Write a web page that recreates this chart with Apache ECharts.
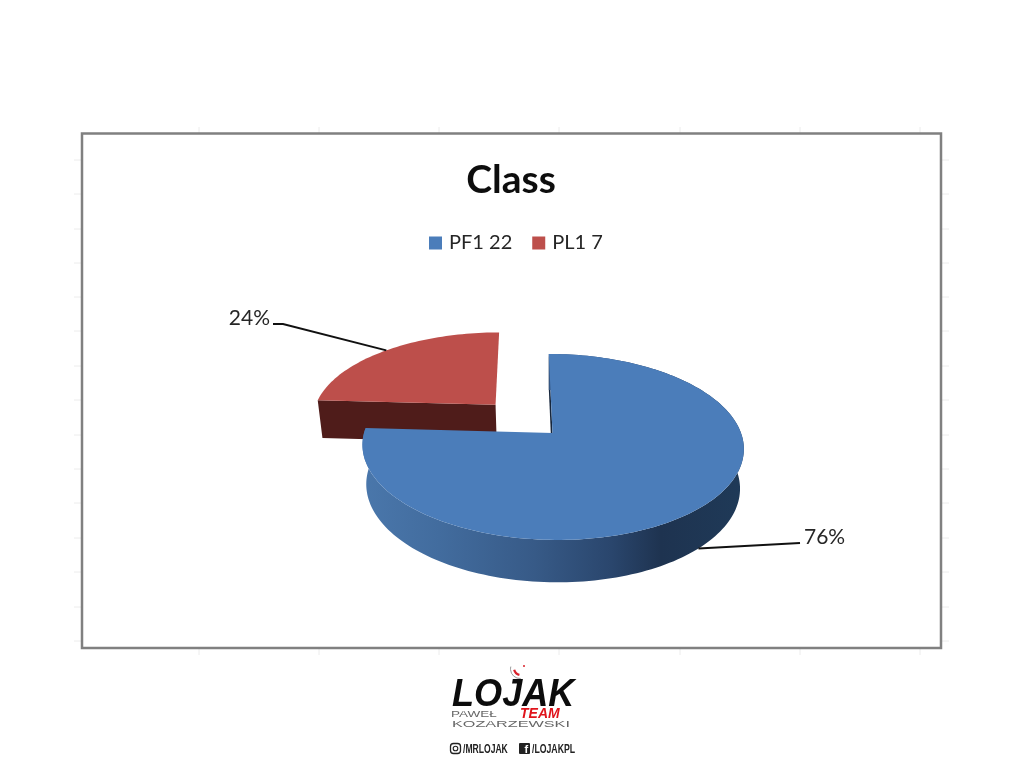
<!DOCTYPE html>
<html><head><meta charset="utf-8">
<style>html,body{margin:0;padding:0;background:#fff}#c{width:1024px;height:783px}</style>
<script src="https://cdn.jsdelivr.net/npm/echarts@6/dist/echarts.min.js"></script>
</head><body><div id="c"></div>
<script>
const chartTitle = 'Class';
const categories = ['PF1 22', 'PL1 7'];
const values = [22, 7];
const sliceColors = ['#4b7dba', '#bd4f4b'];
const explodeAmounts = [0, 0.45];
const total = values.reduce((a, b) => a + b, 0);

// view projection of the tilted pie
const apexX = 552.5, apexY = 433, radiusX = 188.5, radiusY = 90.9, persp = 0.15, skew = 0.047;
const rad = Math.PI / 180;
function topPt(u, v) {
  const d = 1 - persp * v, dy = radiusY * v / d;
  return [apexX + radiusX * u / d + skew * dy, apexY + dy];
}
function bottomPt(u, v) {
  const p = topPt(u, v);
  return [apexX + (p[0] - apexX) * 0.98, p[1] + 39 / (1 - 0.08 * v)];
}
function sliceInfo(i) {
  let start = 0;
  for (let k = 0; k < i; k++) start += values[k] / total * 360;
  const end = start + values[i] / total * 360, mid = (start + end) / 2;
  const ex = explodeAmounts[i];
  return { start, end, mid, ou: ex * Math.sin(mid * rad), ov: -ex * Math.cos(mid * rad) };
}
function rim(s, from, to, fn) {
  const pts = [], n = Math.ceil(Math.abs(to - from) / 1.5);
  for (let j = 0; j <= n; j++) {
    const a = (from + (to - from) * j / n) * rad;
    pts.push(fn(s.ou + Math.sin(a), s.ov - Math.cos(a)));
  }
  return pts;
}
function poly(points, fill) {
  return { type: 'polygon', shape: { points }, style: { fill }, silent: true };
}
const wallGradient = {
  type: 'linear', x: 363, y: 0, x2: 745, y2: 0, global: true,
  colorStops: [
    { offset: 0, color: '#4a77ab' }, { offset: 0.2, color: '#426c9e' },
    { offset: 0.45, color: '#375a87' }, { offset: 0.65, color: '#2a466d' },
    { offset: 0.78, color: '#1e3350' }, { offset: 1, color: '#1f3a58' }
  ]
};
const labelOffsets = [[[800, 543], 804, 537, 'left'], [[283, 324], 270, 318, 'right']];

function renderSlice(i) {
  return function () {
    const s = sliceInfo(i);
    const apexT = topPt(s.ou, s.ov), apexB = bottomPt(s.ou, s.ov);
    const children = [];
    const startU = s.ou + Math.sin(s.start * rad), startV = s.ov - Math.cos(s.start * rad);
    const startT = topPt(startU, startV), startB = bottomPt(startU, startV);
    if (i === 0) {
      children.push(poly([apexT, startT, startB, apexB], '#16263c'));
      children.push(poly(rim(s, s.start, s.end, topPt).concat(rim(s, s.end, s.start, bottomPt)), wallGradient));
    } else {
      children.push(poly([startT, apexT, apexB, startB], '#4f1c1a'));
    }
    children.push(poly([apexT].concat(rim(s, s.start, s.end, topPt)), sliceColors[i]));
    // leader line and percent label
    const m = s.mid * rad, mu = s.ou + Math.sin(m), mv = s.ov - Math.cos(m);
    const anchor = i === 0 ? bottomPt(mu, mv) : topPt(mu, mv);
    const off = labelOffsets[i];
    const line = i === 0 ? [anchor, off[0]] : [anchor, off[0], [273, 324]];
    children.push({ type: 'polyline', shape: { points: line }, style: { stroke: '#111', lineWidth: 2, fill: null }, silent: true });
    children.push({ type: 'text', silent: true, style: {
      text: Math.round(values[i] / total * 100) + '%', x: off[1], y: off[2], align: off[3], verticalAlign: 'middle',
      font: '21px Lato, "Open Sans", sans-serif', fill: '#262626' } });
    return { type: 'group', children };
  };
}

// faint sheet gridlines peeking out around the chart frame
const tickStyle = { stroke: '#ececec', lineWidth: 1 };
const topTickX = [199, 319, 439, 559, 680, 800, 920];
const sideTickY = [160, 194, 229, 263, 297, 331, 366, 400, 435, 469, 503, 538, 572, 607, 641];
const ticks = [];
topTickX.forEach(x => {
  ticks.push({ type: 'line', silent: true, shape: { x1: x, y1: 127, x2: x, y2: 133 }, style: tickStyle });
  ticks.push({ type: 'line', silent: true, shape: { x1: x, y1: 648, x2: x, y2: 655 }, style: tickStyle });
});
sideTickY.forEach(y => {
  ticks.push({ type: 'line', silent: true, shape: { x1: 74, y1: y, x2: 82, y2: y }, style: tickStyle });
  ticks.push({ type: 'line', silent: true, shape: { x1: 941, y1: y, x2: 949, y2: y }, style: tickStyle });
});

function txt(text, x, y, font, fill, extra) {
  return Object.assign({ type: 'text', silent: true, x, y, style: { text, x: 0, y: 0, font, fill, verticalAlign: 'middle' } }, extra || {});
}
const logo = [
  { type: 'arc', silent: true, shape: { cx: 520, cy: 669, r: 9.5, startAngle: 1.5, endAngle: 3.4 }, style: { stroke: '#9a9a9a', lineWidth: 1, fill: null } },
  { type: 'arc', silent: true, shape: { cx: 521, cy: 668, r: 7, startAngle: 1.8, endAngle: 2.9 }, style: { stroke: '#d8202a', lineWidth: 2.2, fill: null } },
  { type: 'circle', silent: true, shape: { cx: 524, cy: 666, r: 1 }, style: { fill: '#d8202a' } },
  txt('LOJAK', 452, 696, 'italic 900 38px "Liberation Sans", sans-serif', '#0c0c0c', { scaleX: 0.95 }),
  txt('TEAM', 520, 714, 'italic bold 14px "Liberation Sans", sans-serif', '#e0141c'),
  txt('PAWEŁ', 451, 715, '9px "Liberation Sans", sans-serif', '#666', { scaleX: 1.5 }),
  txt('KOZARZEWSKI', 452, 725, '9px "Liberation Sans", sans-serif', '#666', { scaleX: 1.8 }),
  { type: 'rect', silent: true, shape: { x: 450.5, y: 743.5, width: 10, height: 10, r: 3 }, style: { stroke: '#222', lineWidth: 1.3, fill: null } },
  { type: 'circle', silent: true, shape: { cx: 455.5, cy: 748.5, r: 2.3 }, style: { stroke: '#222', lineWidth: 1.1, fill: null } },
  txt('/MRLOJAK', 463, 749, 'bold 13px "Liberation Sans", sans-serif', '#222', { scaleX: 0.66 }),
  { type: 'rect', silent: true, shape: { x: 519, y: 743, width: 11, height: 11, r: 1 }, style: { fill: '#222' } },
  txt('f', 524.5, 749.5, 'bold 11px "Liberation Sans", sans-serif', '#fff'),
  txt('/LOJAKPL', 532, 749, 'bold 13px "Liberation Sans", sans-serif', '#222', { scaleX: 0.67 })
];

const chart = echarts.init(document.getElementById('c'), null, { renderer: 'canvas' });
chart.setOption({
  animation: false,
  backgroundColor: '#fff',
  title: {
    text: chartTitle, left: 506, top: 156, textAlign: 'center',
    textStyle: { fontFamily: 'Lato, "Open Sans", sans-serif', fontWeight: 'bold', fontSize: 39, color: '#0d0d0d' }
  },
  legend: {
    data: categories, left: 424, top: 228, icon: 'rect', itemWidth: 13, itemHeight: 13, itemGap: 20,
    textStyle: { fontFamily: 'Lato, "Open Sans", sans-serif', fontSize: 20, color: '#262626', padding: [0, 0, 0, 2] }
  },
  graphic: { elements: ticks.concat([
    { type: 'rect', silent: true, shape: { x: 82, y: 133.5, width: 859, height: 514.5 }, style: { fill: 'none', stroke: '#808080', lineWidth: 2.5 } }
  ], logo) },
  series: categories.map((name, i) => ({
    type: 'custom', name, coordinateSystem: 'none', z: i === 0 ? 3 : 2,
    itemStyle: { color: sliceColors[i] },
    data: [[values[i]]],
    renderItem: renderSlice(i)
  }))
});
</script></body></html>
